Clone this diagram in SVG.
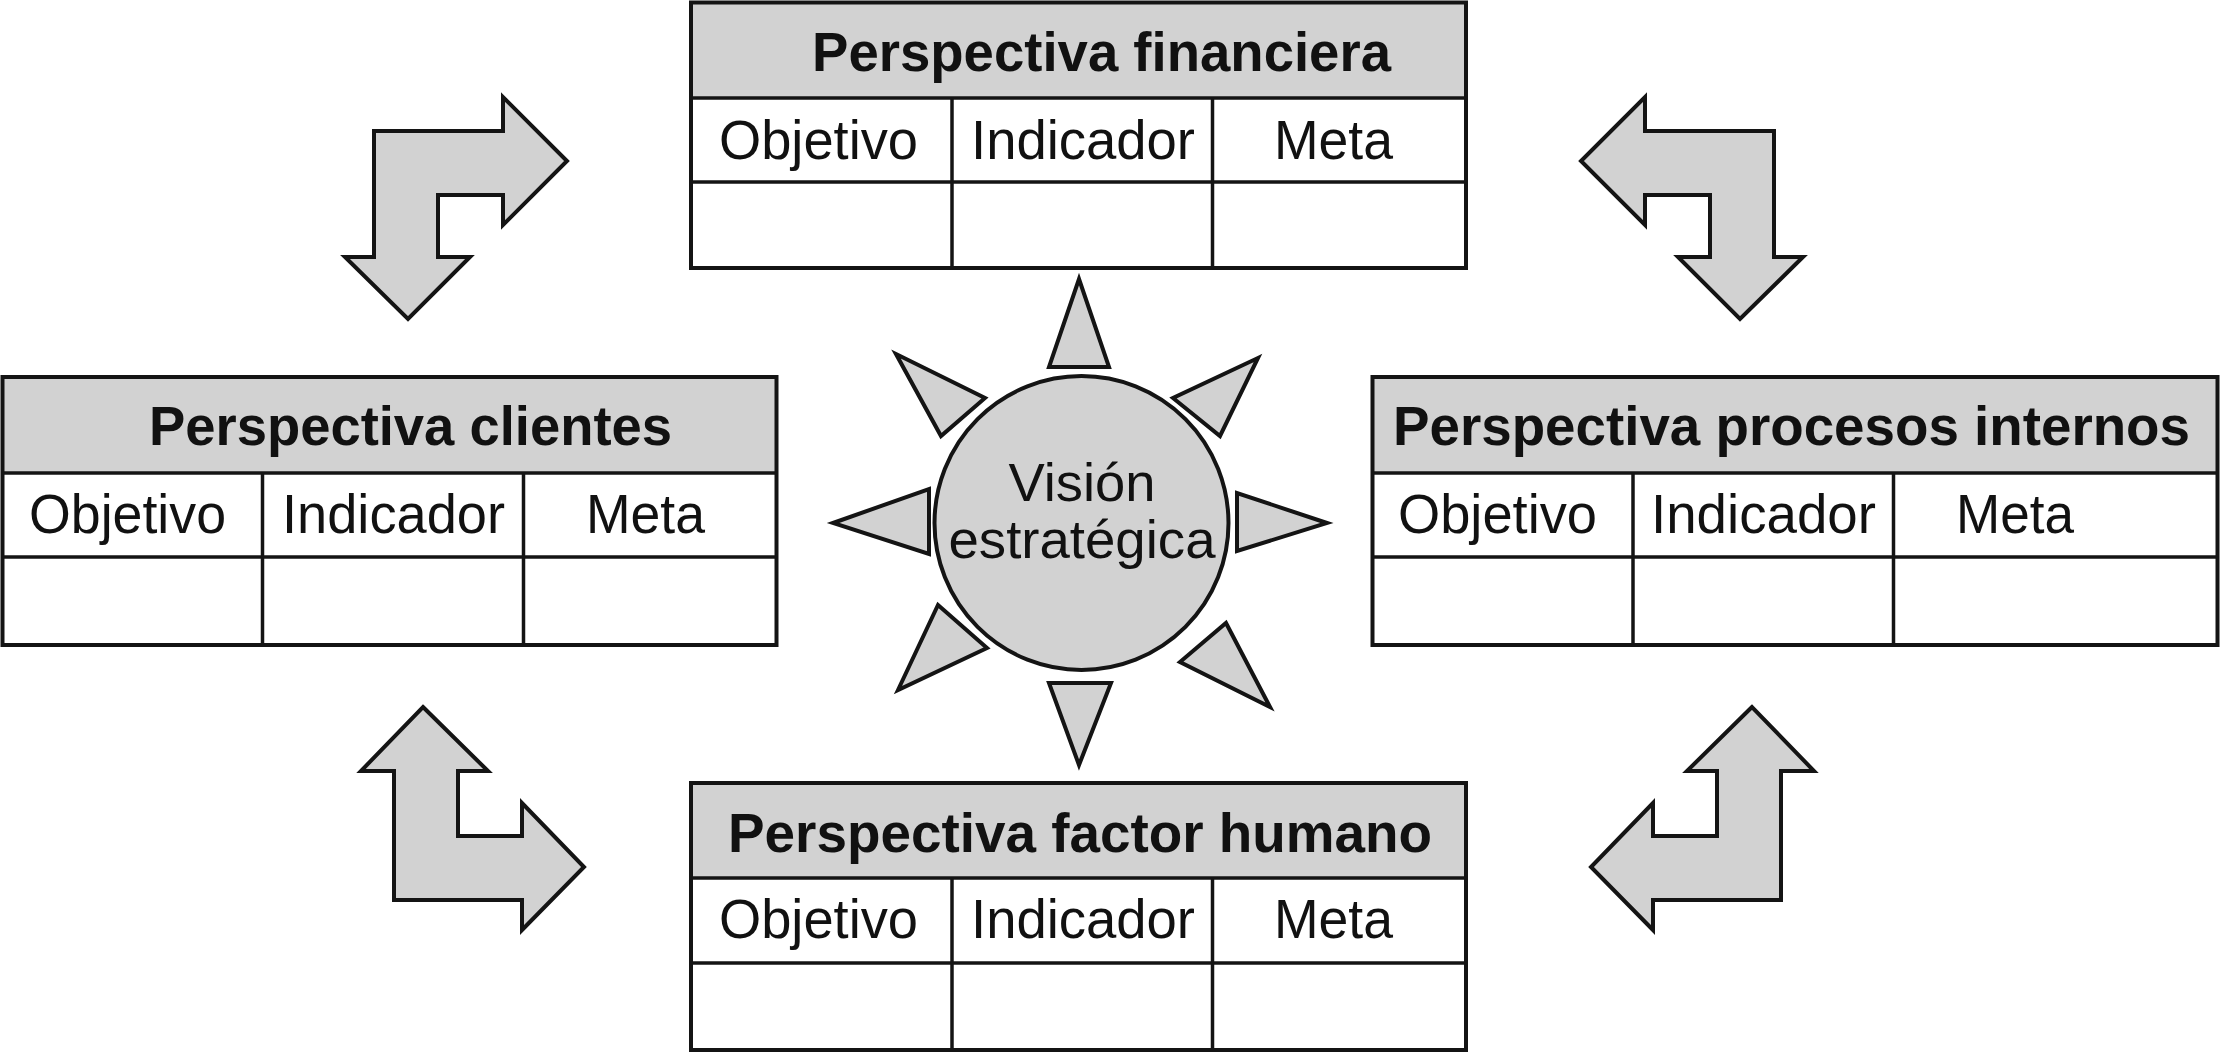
<svg xmlns="http://www.w3.org/2000/svg" width="2221" height="1053" viewBox="0 0 2221 1053">
<style>
.bg{fill:#ffffff}
.hdr{fill:#d2d2d2;stroke:none}
.cell{fill:#ffffff;stroke:none}
.ln{stroke:#141414;stroke-width:3.5;fill:none}
.box{stroke:#141414;stroke-width:4;fill:none}
.shape{fill:#d2d2d2;stroke:#141414;stroke-width:4;stroke-linejoin:miter}
.h{font-family:"Liberation Sans",Arial,sans-serif;font-weight:bold;font-size:55px;fill:#111}
.t{font-family:"Liberation Sans",Arial,sans-serif;font-size:55px;fill:#111}
.s{font-family:"Liberation Sans",Arial,sans-serif;font-size:53px;fill:#111}
</style>
<rect class="bg" x="0" y="0" width="2221" height="1053"/>

<g id="connectors">
<polygon id="arrow-tl" class="shape" points="374,131 503,131 503,97 567,161 503,225 503,195 438,195 438,257 470,257 408,319 345,257 374,257"/>
<polygon id="arrow-tr" class="shape" points="1774,131 1645,131 1645,97 1581,161 1645,225 1645,195 1710,195 1710,257 1678,257 1740,319 1803,257 1774,257"/>
<polygon id="arrow-bl" class="shape" points="423,707 488,771 458,771 458,836 522,836 522,803 584,867 522,930 522,900 394,900 394,771 361,771"/>
<polygon id="arrow-br" class="shape" points="1752,707 1687,771 1717,771 1717,836 1653,836 1653,803 1591,867 1653,930 1653,900 1781,900 1781,771 1814,771"/>
</g>

<g id="perspectiva-financiera">
<rect class="hdr" x="691" y="2.5" width="775" height="95.5"/>
<rect class="cell" x="691" y="98" width="775" height="170"/>
<line class="ln" x1="691" y1="98" x2="1466" y2="98"/>
<line class="ln" x1="691" y1="182" x2="1466" y2="182"/>
<line class="ln" x1="952" y1="98" x2="952" y2="268"/>
<line class="ln" x1="1212.5" y1="98" x2="1212.5" y2="268"/>
<rect class="box" x="691" y="2.5" width="775" height="265.5"/>
<text class="h" x="812" y="71" textLength="579" lengthAdjust="spacingAndGlyphs">Perspectiva financiera</text>
<text class="t" x="719" y="159" textLength="199" lengthAdjust="spacingAndGlyphs">Objetivo</text>
<text class="t" x="971" y="159" textLength="224" lengthAdjust="spacingAndGlyphs">Indicador</text>
<text class="t" x="1274" y="159" textLength="119" lengthAdjust="spacingAndGlyphs">Meta</text>
</g>

<g id="perspectiva-clientes">
<rect class="hdr" x="2.5" y="377" width="774" height="96"/>
<rect class="cell" x="2.5" y="473" width="774" height="172"/>
<line class="ln" x1="2.5" y1="473" x2="776.5" y2="473"/>
<line class="ln" x1="2.5" y1="557" x2="776.5" y2="557"/>
<line class="ln" x1="262.5" y1="473" x2="262.5" y2="645"/>
<line class="ln" x1="523.5" y1="473" x2="523.5" y2="645"/>
<rect class="box" x="2.5" y="377" width="774" height="268"/>
<text class="h" x="149" y="445" textLength="523" lengthAdjust="spacingAndGlyphs">Perspectiva clientes</text>
<text class="t" x="29" y="533" textLength="197" lengthAdjust="spacingAndGlyphs">Objetivo</text>
<text class="t" x="282" y="533" textLength="223" lengthAdjust="spacingAndGlyphs">Indicador</text>
<text class="t" x="586" y="533" textLength="119" lengthAdjust="spacingAndGlyphs">Meta</text>
</g>

<g id="perspectiva-procesos-internos">
<rect class="hdr" x="1372.5" y="377" width="845" height="96"/>
<rect class="cell" x="1372.5" y="473" width="845" height="172"/>
<line class="ln" x1="1372.5" y1="473" x2="2217.5" y2="473"/>
<line class="ln" x1="1372.5" y1="557" x2="2217.5" y2="557"/>
<line class="ln" x1="1633" y1="473" x2="1633" y2="645"/>
<line class="ln" x1="1893.5" y1="473" x2="1893.5" y2="645"/>
<rect class="box" x="1372.5" y="377" width="845" height="268"/>
<text class="h" x="1393" y="445" textLength="797" lengthAdjust="spacingAndGlyphs">Perspectiva procesos internos</text>
<text class="t" x="1398" y="533" textLength="199" lengthAdjust="spacingAndGlyphs">Objetivo</text>
<text class="t" x="1651" y="533" textLength="225" lengthAdjust="spacingAndGlyphs">Indicador</text>
<text class="t" x="1956" y="533" textLength="118" lengthAdjust="spacingAndGlyphs">Meta</text>
</g>

<g id="perspectiva-factor-humano">
<rect class="hdr" x="691" y="783" width="775" height="95"/>
<rect class="cell" x="691" y="878" width="775" height="172"/>
<line class="ln" x1="691" y1="878" x2="1466" y2="878"/>
<line class="ln" x1="691" y1="963" x2="1466" y2="963"/>
<line class="ln" x1="952" y1="878" x2="952" y2="1050"/>
<line class="ln" x1="1212.5" y1="878" x2="1212.5" y2="1050"/>
<rect class="box" x="691" y="783" width="775" height="267"/>
<text class="h" x="728" y="852" textLength="704" lengthAdjust="spacingAndGlyphs">Perspectiva factor humano</text>
<text class="t" x="719" y="938" textLength="199" lengthAdjust="spacingAndGlyphs">Objetivo</text>
<text class="t" x="971" y="938" textLength="224" lengthAdjust="spacingAndGlyphs">Indicador</text>
<text class="t" x="1274" y="938" textLength="119" lengthAdjust="spacingAndGlyphs">Meta</text>
</g>

<g id="vision-estrategica">
<polygon class="shape" points="1079,279 1109,367 1049,367"/>
<polygon class="shape" points="1079,765 1049,683 1111,683"/>
<polygon class="shape" points="833,523 929,489 929,554"/>
<polygon class="shape" points="1327,523 1237,493 1237,551"/>
<polygon class="shape" points="896,354 985,398 941,436"/>
<polygon class="shape" points="1258,358 1173,398 1220,436"/>
<polygon class="shape" points="898,690 938,605 987,648"/>
<polygon class="shape" points="1270,707 1226,623 1180,662"/>
<circle class="shape" cx="1081.5" cy="523" r="147"/>
<text class="s" x="1082" y="501" text-anchor="middle" textLength="147" lengthAdjust="spacingAndGlyphs">Visión</text>
<text class="s" x="1082" y="558" text-anchor="middle" textLength="267" lengthAdjust="spacingAndGlyphs">estratégica</text>
</g>
</svg>
